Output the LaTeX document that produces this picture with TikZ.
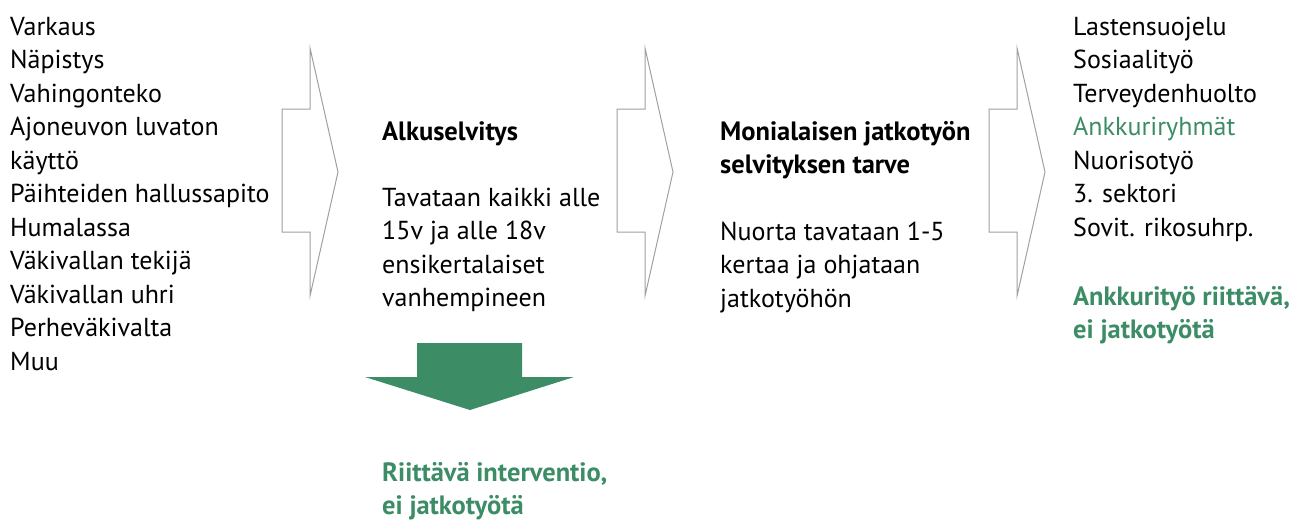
\documentclass[tikz,border=0pt]{standalone}
\usepackage{fontspec}
\setmainfont{PT Sans}
\usetikzlibrary{positioning}
\definecolor{ankkuri}{HTML}{3C8C66}
\definecolor{outline}{HTML}{A0A0A0}
% anchor=base west sits on the last line of a node
\tikzstyle{list} = [anchor=base west, inner sep=0pt, align=left, font=\fontsize{26}{33.5}\selectfont]
\tikzstyle{head} = [list, font=\fontsize{26.5}{33.5}\selectfont\bfseries]
\tikzstyle{outcome} = [head, text=ankkuri]
\tikzstyle{bigarrow} = [draw=outline, line width=1pt, line join=miter]

\begin{document}
\begin{tikzpicture}[x=1pt, y=-1pt]
        \useasboundingbox (0,0) rectangle (1300,525);
        % hollow arrows between columns
        \foreach \dx in {0,335,707}
            \draw[bigarrow, xshift=\dx pt] (282,109) -- (310,109) -- (310,48) -- (338,172)
                -- (310,296) -- (310,232) -- (282,232) -- cycle;
        % columns
        \node[list] (cases) at (10,370) {Varkaus\\N\"apistys\\Vahingonteko\\Ajoneuvon luvaton\\k\"aytt\"o\\P\"aihteiden hallussapito\\Humalassa\\V\"akivallan tekij\"a\\V\"akivallan uhri\\Perhev\"akivalta\\Muu};
        \node[head] (alku) at (382,140) {Alkuselvitys};
        \node[list] (tavataan) at (382,306.5) {Tavataan kaikki alle\\15v ja alle 18v\\ensikertalaiset\\vanhempineen};
        \node[head] (moni) at (720,173.5) {Monialaisen jatkoty\"on\\selvityksen tarve};
        \node[list] (nuorta) at (720,307) {Nuorta tavataan 1-5\\kertaa ja ohjataan\\jatkoty\"oh\"on};
        \node[list] (tahot) at (1073,236) {Lastensuojelu\\Sosiaality\"o\\Terveydenhuolto\\\textcolor{ankkuri}{Ankkuriryhm\"at}\\Nuorisoty\"o\\3. sektori\\Sovit. rikosuhrp.};
        \node[outcome] (riittava) at (1073,338.5) {Ankkurity\"o riitt\"av\"a,\\ei jatkoty\"ot\"a};
        % green down arrow
        \fill[ankkuri] (417,343) -- (522,343) -- (522,377) -- (574,377) -- (470,410)
            -- (365,377) -- (417,377) -- cycle;
        \node[outcome] (interventio) at (382,514.5) {Riitt\"av\"a interventio,\\ei jatkoty\"ot\"a};
    \end{tikzpicture}
\end{document}
